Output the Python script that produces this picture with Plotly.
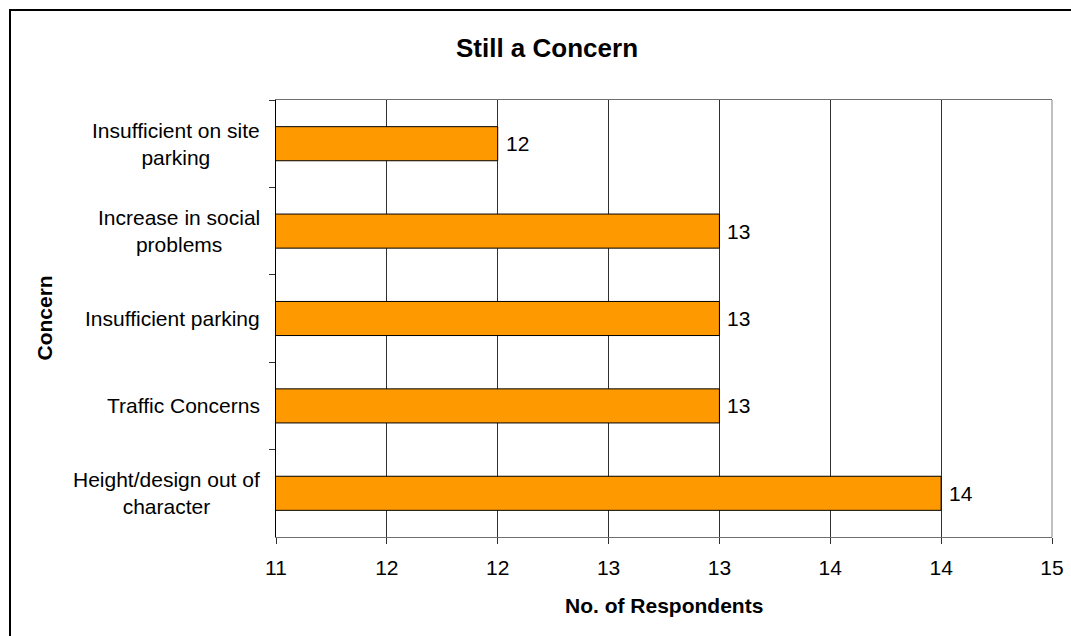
import plotly.graph_objects as go

# Survey data
concerns = [
    "Insufficient on site<br>parking",
    "Increase in social<br>problems",
    "Insufficient parking",
    "Traffic Concerns",
    "Height/design out of<br>character",
]
respondents = [12, 13, 13, 13, 14]

# x-axis ticks (half steps shown with whole-number formatting)
x_tick_values = [11, 11.5, 12, 12.5, 13, 13.5, 14, 14.5]
x_tick_labels = ["11", "12", "12", "13", "13", "14", "14", "15"]

FONT = "Liberation Sans, Arial, sans-serif"
W, H = 1071, 636
L, R, T, B = 276, 19, 100, 99
PW, PH = W - L - R, H - T - B

fig = go.Figure(
    go.Bar(
        x=respondents,
        y=concerns,
        orientation="h",
        marker=dict(color="#FF9900", line=dict(color="#000000", width=1)),
        hoverinfo="x+y",
    )
)

# value labels to the right of each bar
for c, v in zip(concerns, respondents):
    fig.add_annotation(
        x=v, xref="x", y=c, yref="y",
        text=str(v), showarrow=False,
        xanchor="left", yanchor="middle", xshift=6,
        font=dict(family=FONT, size=21, color="#000000"),
    )

# category labels, each line centred, block right-aligned against the axis
for c in concerns:
    fig.add_annotation(
        x=0, xref="paper", y=c, yref="y",
        text=c, showarrow=False,
        xanchor="right", yanchor="middle", align="center",
        xshift=-14,
        font=dict(family=FONT, size=21, color="#000000"),
    )

# axis titles
fig.add_annotation(
    x=0.5, xref="paper", y=(H - B - 605) / PH, yref="paper",
    text="<b>No. of Respondents</b>", showarrow=False,
    xanchor="center", yanchor="middle",
    font=dict(family=FONT, size=21, color="#000000"),
)
fig.add_annotation(
    x=(44 - L) / PW, xref="paper", y=0.5, yref="paper",
    text="<b>Concern</b>", showarrow=False, textangle=-90,
    xanchor="center", yanchor="middle",
    font=dict(family=FONT, size=21, color="#000000"),
)

# outer chart border and right plot edge
fig.add_shape(
    type="rect", xref="paper", yref="paper",
    x0=(10 - L) / PW, x1=(1085 - L) / PW,
    y0=(H - B - 645) / PH, y1=(H - B - 10) / PH,
    line=dict(color="#000000", width=2), fillcolor="rgba(0,0,0,0)",
    layer="below",
)
fig.add_shape(
    type="line", xref="paper", yref="paper",
    x0=1, x1=1, y0=0, y1=1,
    line=dict(color="#808080", width=1),
)

fig.update_layout(
    width=W, height=H,
    margin=dict(l=L, r=R, t=T, b=B, pad=0, autoexpand=False),
    paper_bgcolor="#FFFFFF",
    plot_bgcolor="#FFFFFF",
    showlegend=False,
    bargap=0.61,
    font=dict(family=FONT, size=21, color="#000000"),
    title=dict(
        text="<b>Still a Concern</b>",
        x=547 / W, xanchor="center", xref="container",
        y=1 - 48 / H, yanchor="middle", yref="container",
        font=dict(family=FONT, size=26, color="#000000"),
    ),
    xaxis=dict(
        range=[11, 14.5],
        tickmode="array",
        tickvals=x_tick_values,
        ticktext=x_tick_labels,
        ticks="outside", ticklen=6, tickcolor="#303030", tickwidth=1,
        ticklabelstandoff=6,
        showgrid=True, gridcolor="#303030", gridwidth=1,
        showline=True, linecolor="#707070", linewidth=1, mirror=True,
        zeroline=False,
        automargin=False,
        tickfont=dict(family=FONT, size=21, color="#000000"),
        fixedrange=True,
    ),
    yaxis=dict(
        categoryorder="array",
        categoryarray=concerns,
        autorange="reversed",
        showticklabels=False,
        ticks="outside", ticklen=6, tickcolor="#303030", tickwidth=1,
        tickson="boundaries",
        showgrid=False,
        showline=True, linecolor="#000000", linewidth=1,
        zeroline=False,
        automargin=False,
        fixedrange=True,
    ),
)

fig.write_html("out.html")
